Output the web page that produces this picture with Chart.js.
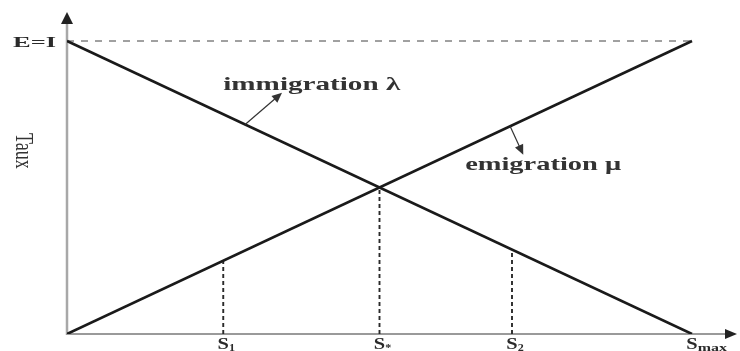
<!DOCTYPE html>
<html>
<head>
<meta charset="utf-8">
<script src="https://cdn.jsdelivr.net/npm/chart.js@4/dist/chart.umd.min.js"></script>
<style>
  html, body { margin: 0; padding: 0; background: #ffffff; }
  #wrap { width: 740px; height: 351px; position: relative; }
</style>
</head>
<body>
<div id="wrap"><canvas id="c" width="740" height="351"></canvas></div>
<script>
// ---- data ----
const speciesTicks = [0.25, 0.5, 0.712, 1];          // S1, S*, S2, Smax
const speciesTickNames = ['S', 'S', 'S', 'S'];
const speciesTickSubs = ['1', '*', '2', 'max'];
const dropHeights = [0.25, 0.5, 0.29];                // dashed drop lines at S1, S*, S2
const immigrationX = [0, 1];
const immigrationY = [1, 0];
const emigrationX = [0, 1];
const emigrationY = [0, 1];
const equalityLevel = [1, 1];                         // E = I dashed level
const equalityX = [0, 1];
const yTickLabel = 'E=I';
const yAxisTitle = 'Taux';
const immigrationLabel = 'immigration \u03BB';
const emigrationLabel = 'emigration \u03BC';
// annotation anchors (data coords)
const immigrationArrow = [[0.285, 0.715], [0.344, 0.823]];
const emigrationArrow = [[0.709, 0.709], [0.730, 0.612]];
const immigrationText = [0.250, 0.833];
const emigrationText = [0.637, 0.560];

const pts = (xs, ys) => xs.map((x, i) => ({ x: x, y: ys[i] }));

const datasets = [
  { label: 'immigration', data: pts(immigrationX, immigrationY), borderColor: '#1a1a1a', borderWidth: 2.6 },
  { label: 'emigration', data: pts(emigrationX, emigrationY), borderColor: '#1a1a1a', borderWidth: 2.6 },
  { label: 'E=I', data: pts(equalityX, equalityLevel), borderColor: '#8a8a8a', borderWidth: 1.6, borderDash: [7, 7] }
];
dropHeights.forEach((h, i) => {
  datasets.push({
    label: 'drop' + i,
    data: [{ x: speciesTicks[i], y: 0 }, { x: speciesTicks[i], y: h }],
    borderColor: '#2a2a2a', borderWidth: 1.9, borderDash: [4, 3]
  });
});
datasets.forEach(d => { d.showLine = true; d.pointRadius = 0; d.pointHoverRadius = 0; d.fill = false; });

function drawStretched(ctx, text, x, y, font, targetW, align) {
  ctx.save();
  ctx.font = font;
  const w = ctx.measureText(text).width;
  const s = targetW ? targetW / w : 1;
  ctx.translate(x, y);
  ctx.scale(s, 1);
  ctx.textAlign = align || 'left';
  ctx.textBaseline = 'alphabetic';
  ctx.fillText(text, 0, 0);
  ctx.restore();
}

function arrow(ctx, x1, y1, x2, y2, head, color, lw) {
  ctx.save();
  ctx.strokeStyle = color; ctx.fillStyle = color; ctx.lineWidth = lw;
  const a = Math.atan2(y2 - y1, x2 - x1);
  ctx.beginPath();
  ctx.moveTo(x1, y1);
  ctx.lineTo(x2 - Math.cos(a) * head * 0.8, y2 - Math.sin(a) * head * 0.8);
  ctx.stroke();
  ctx.beginPath();
  ctx.moveTo(x2, y2);
  ctx.lineTo(x2 - head * Math.cos(a) + head * 0.45 * Math.sin(a), y2 - head * Math.sin(a) - head * 0.45 * Math.cos(a));
  ctx.lineTo(x2 - head * Math.cos(a) - head * 0.45 * Math.sin(a), y2 - head * Math.sin(a) + head * 0.45 * Math.cos(a));
  ctx.closePath();
  ctx.fill();
  ctx.restore();
}

const decor = {
  id: 'decor',
  beforeDatasetsDraw(chart) {
    const ctx = chart.ctx;
    const xs = chart.scales.x, ys = chart.scales.y;
    const ca = chart.chartArea;
    const x0 = xs.getPixelForValue(0), y0 = ys.getPixelForValue(0);
    ctx.save();
    // y axis
    ctx.strokeStyle = '#a8a8a8'; ctx.lineWidth = 2.5;
    ctx.beginPath(); ctx.moveTo(x0, y0 + 1); ctx.lineTo(x0, ca.top + 10); ctx.stroke();
    // x axis
    ctx.strokeStyle = '#9a9a9a'; ctx.lineWidth = 1.8;
    ctx.beginPath(); ctx.moveTo(x0 - 1, y0); ctx.lineTo(ca.right - 10, y0); ctx.stroke();
    // arrow heads
    ctx.fillStyle = '#222';
    ctx.beginPath();
    ctx.moveTo(x0, ca.top); ctx.lineTo(x0 - 6, ca.top + 12); ctx.lineTo(x0 + 6, ca.top + 12); ctx.closePath(); ctx.fill();
    ctx.beginPath();
    ctx.moveTo(ca.right, y0); ctx.lineTo(ca.right - 12, y0 - 5); ctx.lineTo(ca.right - 12, y0 + 5); ctx.closePath(); ctx.fill();
    ctx.restore();
  },
  afterDatasetsDraw(chart) {
    const ctx = chart.ctx;
    const xs = chart.scales.x, ys = chart.scales.y;
    const px = v => xs.getPixelForValue(v), py = v => ys.getPixelForValue(v);
    const y0 = py(0);
    ctx.save();
    ctx.fillStyle = '#2a2a2a';
    // x tick labels with subscripts
    speciesTicks.forEach((v, i) => {
      const cx = px(v);
      ctx.font = 'bold 17px "Liberation Serif", serif';
      const sw = ctx.measureText(speciesTickNames[i]).width * 1.2;
      drawStretched(ctx, speciesTickNames[i], cx - sw / 2, y0 + 15, 'bold 17px "Liberation Serif", serif', sw);
      const sub = speciesTickSubs[i];
      ctx.font = 'bold 11px "Liberation Serif", serif';
      const subW = ctx.measureText(sub).width * (sub === 'max' ? 1.45 : 1.1);
      drawStretched(ctx, sub, cx + sw / 2, y0 + 17, 'bold 11px "Liberation Serif", serif', subW);
    });
    // y tick label E=I
    drawStretched(ctx, yTickLabel, 56, py(equalityLevel[0]) + 5.5, 'bold 15px "Liberation Serif", serif', 43, 'right');
    // rotated axis title (reads top to bottom, stretched across like the source)
    ctx.save();
    ctx.translate(16, 133);
    ctx.scale(1.4, 1);
    ctx.rotate(Math.PI / 2);
    ctx.font = '18px "Liberation Serif", serif';
    ctx.textAlign = 'left'; ctx.textBaseline = 'alphabetic';
    ctx.fillStyle = '#333';
    ctx.fillText(yAxisTitle, 0, 0);
    ctx.restore();
    // annotations
    ctx.fillStyle = '#333';
    drawStretched(ctx, immigrationLabel, px(immigrationText[0]), py(immigrationText[1]), 'bold 19px "Liberation Serif", serif', 177);
    drawStretched(ctx, emigrationLabel, px(emigrationText[0]), py(emigrationText[1]), 'bold 19px "Liberation Serif", serif', 156);
    arrow(ctx, px(immigrationArrow[0][0]), py(immigrationArrow[0][1]), px(immigrationArrow[1][0]), py(immigrationArrow[1][1]), 10, '#333', 1.2);
    arrow(ctx, px(emigrationArrow[0][0]), py(emigrationArrow[0][1]), px(emigrationArrow[1][0]), py(emigrationArrow[1][1]), 10, '#333', 1.2);
    ctx.restore();
  }
};

new Chart(document.getElementById('c'), {
  type: 'scatter',
  data: { datasets: datasets },
  options: {
    responsive: false,
    animation: false,
    events: [],
    layout: { padding: { top: 12, right: 3, left: 0, bottom: 0 } },
    plugins: { legend: { display: false }, tooltip: { enabled: false } },
    scales: {
      x: {
        type: 'linear', min: 0, max: 1.072,
        ticks: { display: false }, grid: { display: false }, border: { display: false },
        afterFit(s) { s.height = 17; }
      },
      y: {
        type: 'linear', min: 0, max: 1.099,
        ticks: { display: false }, grid: { display: false }, border: { display: false },
        afterFit(s) { s.width = 67; }
      }
    }
  },
  plugins: [decor]
});
</script>
</body>
</html>
